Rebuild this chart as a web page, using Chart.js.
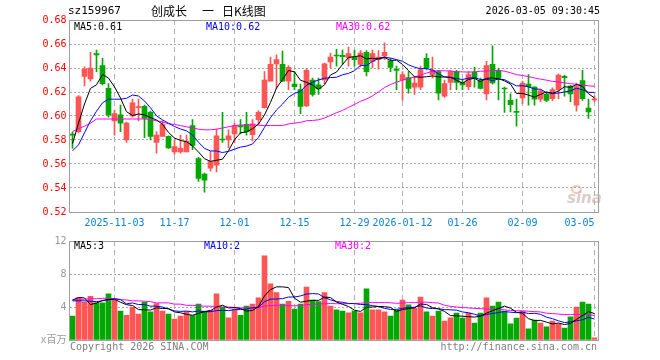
<!DOCTYPE html>
<html><head><meta charset="utf-8">
<script src="https://cdn.jsdelivr.net/npm/chart.js@4/dist/chart.umd.min.js"></script>
<style>
html,body{margin:0;padding:0;background:#fff;}
#wrap{position:relative;width:660px;height:360px;overflow:hidden;font-family:"DejaVu Sans Mono",monospace;font-size:10px;}
.t{position:absolute;white-space:pre;line-height:12px;}
canvas{position:absolute;left:0;}
</style></head><body>
<div id="wrap">
<canvas id="k" width="660" height="232" style="top:0;width:660px;height:232px"></canvas>
<canvas id="v" width="660" height="128" style="top:232px;width:660px;height:128px"></canvas>
<div class="t" style="left:68px;top:5px;font-size:11px;color:#000">sz159967</div>
<div class="t" style="left:151px;top:4px;font-size:12px;line-height:14px;font-family:'Noto Sans CJK SC',sans-serif;color:#000"><span>创成长</span><span style="margin-left:15px">一</span><span style="margin-left:8px">日K线图</span></div>
<div class="t" style="right:60px;top:5px;color:#000">2026-03-05 09:30:45</div>
<div class="t" style="left:74px;top:21px;color:#000">MA5:0.61</div>
<div class="t" style="left:206px;top:21px;color:#0000ff">MA10:0.62</div>
<div class="t" style="left:336px;top:21px;color:#ff00ff">MA30:0.62</div>
<div style="position:absolute;left:571px;top:185px;width:7px;height:5px;border:2px solid rgba(230,130,130,0.45);border-radius:50%"></div>
<div class="t" style="left:567px;top:191px;font-size:15px;line-height:15px;font-family:'DejaVu Sans',sans-serif;font-weight:bold;font-style:italic;color:rgba(190,160,160,0.55)">sina</div>
<div class="t" style="left:74px;top:240px;color:#000">MA5:3</div>
<div class="t" style="left:204px;top:240px;color:#0000ff">MA10:2</div>
<div class="t" style="left:335px;top:240px;color:#ff00ff">MA30:2</div>
<div class="t" style="left:70px;top:341px;color:#808080">Copyright 2026 SINA.COM</div>
<div class="t" style="right:63px;top:341px;color:#808080">http://finance.sina.com.cn</div>
</div>
<script>
const dates = [
'2025-10-23','2025-10-24','2025-10-27','2025-10-28','2025-10-29','2025-10-30','2025-10-31',
'2025-11-03','2025-11-04','2025-11-05','2025-11-06','2025-11-07','2025-11-10','2025-11-11','2025-11-12','2025-11-13','2025-11-14',
'2025-11-17','2025-11-18','2025-11-19','2025-11-20','2025-11-21','2025-11-24','2025-11-25','2025-11-26','2025-11-27','2025-11-28',
'2025-12-01','2025-12-02','2025-12-03','2025-12-04','2025-12-05','2025-12-08','2025-12-09','2025-12-10','2025-12-11','2025-12-12',
'2025-12-15','2025-12-16','2025-12-17','2025-12-18','2025-12-19','2025-12-22','2025-12-23','2025-12-24','2025-12-25','2025-12-26',
'2025-12-29','2025-12-30','2025-12-31',
'2026-01-05','2026-01-06','2026-01-07','2026-01-08','2026-01-09','2026-01-12','2026-01-13','2026-01-14','2026-01-15','2026-01-16',
'2026-01-19','2026-01-20','2026-01-21','2026-01-22','2026-01-23','2026-01-26','2026-01-27','2026-01-28','2026-01-29','2026-01-30',
'2026-02-02','2026-02-03','2026-02-04','2026-02-05','2026-02-06','2026-02-09','2026-02-10','2026-02-11','2026-02-12','2026-02-13',
'2026-02-24','2026-02-25','2026-02-26','2026-02-27',
'2026-03-02','2026-03-03','2026-03-04','2026-03-05'];

const open = [0.585,0.587,0.633,0.631,0.652,0.642,0.623,0.596,0.601,0.580,
0.600,0.607,0.608,0.603,0.578,0.583,0.583,0.570,0.570,0.570,
0.592,0.5645,0.5515,0.5565,0.559,0.5805,0.580,0.585,0.592,0.593,
0.5845,0.597,0.607,0.629,0.6435,0.643,0.629,0.6265,0.622,0.6085,
0.630,0.626,0.630,0.645,0.6505,0.6505,0.6485,0.649,0.643,0.653,
0.6455,0.647,0.650,0.646,0.6385,0.630,0.632,0.624,0.624,0.648,
0.6345,0.637,0.6165,0.628,0.637,0.628,0.6245,0.6365,0.6295,0.6185,
0.643,0.638,0.623,0.613,0.6035,0.615,0.6265,0.624,0.614,0.618,
0.6145,0.622,0.633,0.625,0.609,0.6295,0.6065,0.6135];
const high = [0.5865,0.617,0.641,0.653,0.655,0.648,0.627,0.605,0.609,0.595,
0.614,0.614,0.609,0.604,0.587,0.596,0.5835,0.580,0.584,0.584,
0.597,0.5655,0.5525,0.5705,0.589,0.603,0.5885,0.594,0.597,0.603,
0.597,0.6045,0.637,0.649,0.651,0.654,0.642,0.637,0.6265,0.6395,
0.6315,0.6315,0.644,0.6525,0.6555,0.655,0.6575,0.655,0.6545,0.6545,
0.655,0.6545,0.661,0.648,0.6415,0.637,0.637,0.633,0.6415,0.652,
0.649,0.638,0.630,0.638,0.638,0.630,0.637,0.6405,0.6315,0.6455,
0.6585,0.640,0.624,0.6185,0.614,0.629,0.6345,0.6245,0.622,0.620,
0.6235,0.635,0.634,0.6255,0.6275,0.638,0.614,0.6165];
const low = [0.573,0.586,0.625,0.629,0.637,0.626,0.599,0.584,0.587,0.578,
0.599,0.596,0.582,0.580,0.569,0.583,0.573,0.568,0.569,0.570,
0.572,0.5455,0.5365,0.554,0.5535,0.578,0.5735,0.5775,0.585,0.584,
0.579,0.593,0.6065,0.629,0.623,0.629,0.622,0.622,0.602,0.608,
0.6165,0.618,0.627,0.640,0.6415,0.643,0.6415,0.6415,0.641,0.6335,
0.640,0.639,0.647,0.637,0.622,0.613,0.619,0.618,0.622,0.6385,
0.6315,0.6135,0.6155,0.622,0.622,0.622,0.622,0.624,0.6225,0.6135,
0.6265,0.6135,0.603,0.6035,0.5915,0.610,0.609,0.609,0.612,0.612,
0.6128,0.6145,0.6165,0.612,0.604,0.613,0.598,0.612];
const close = [0.584,0.616,0.639,0.640,0.651,0.627,0.601,0.602,0.594,0.594,
0.611,0.6075,0.598,0.583,0.584,0.593,0.5735,0.5745,0.573,0.579,
0.5755,0.548,0.5465,0.562,0.5835,0.580,0.5835,0.592,0.591,0.587,
0.5935,0.603,0.630,0.643,0.647,0.629,0.6405,0.6245,0.608,0.638,
0.618,0.6225,0.6435,0.649,0.650,0.6495,0.652,0.647,0.6525,0.637,
0.652,0.649,0.653,0.6405,0.638,0.6345,0.623,0.6275,0.6385,0.640,
0.638,0.619,0.627,0.637,0.628,0.626,0.6345,0.6315,0.623,0.642,
0.6275,0.6315,0.6225,0.6095,0.603,0.6275,0.6245,0.614,0.621,0.613,
0.622,0.634,0.632,0.6185,0.6245,0.6145,0.6035,0.614];
// volume, millions
const volume = [2.9,5.1,4.6,5.3,4.5,4.5,5.6,4.8,3.5,3.0,
4.0,3.15,4.6,3.4,4.4,3.5,3.15,2.55,2.9,3.45,
2.95,4.35,3.5,3.6,5.6,4.0,2.7,3.75,3.0,4.1,
4.35,5.1,10.2,6.8,5.75,4.35,4.7,3.75,4.35,6.4,
4.85,4.65,5.75,4.1,3.65,3.5,3.3,3.55,3.3,6.2,
3.65,3.65,3.4,2.9,3.65,4.85,4.25,3.85,5.2,3.4,
2.9,3.5,2.3,2.7,3.25,2.65,3.25,2.05,3.25,5.1,
4.1,4.6,3.5,1.95,2.65,3.45,1.35,2.4,2.05,1.6,
2.3,1.95,1.45,2.8,4.0,4.6,4.35,0.25];

// moving-average values for days whose history lies before the visible window
const ma5Head = [0.577,0.594,0.610,0.623];
const ma10Head = [0.571,0.576,0.586,0.596,0.604,0.611,0.614,0.614,0.614];
const ma30Head = [0.587,0.5895,0.5915,0.594,0.5975,0.5975,0.5975,0.5975,0.5975,0.5975,
0.5975,0.5975,0.5975,0.597,0.596,0.595,0.5935,0.593,0.592,0.591,
0.590,0.589,0.5885,0.5885,0.589,0.590,0.591,0.592,0.5925];
const vma5Head = [4.85,5.15,5.1,4.3];
const vma10Head = [4.75,4.75,4.75,4.7,4.65,4.75,4.9,5.0,4.9];
const vma30Head = [4.85,4.9,4.95,5.0,5.0,5.05,5.05,5.0,4.9,4.85,
4.75,4.75,4.7,4.65,4.5,4.5,4.5,4.35,4.35,4.2,
4.2,4.15,4.1,4.1,4.05,4.0,4.0,3.95,3.9];

const tickDates = ['2025-11-03','2025-11-17','2025-12-01','2025-12-15','2025-12-29','2026-01-12','2026-01-26','2026-02-09','2026-03-05'];
const tickTexts = ['2025-11-03','11-17','12-01','12-15','12-29','2026-01-12','01-26','02-09','03-05'];
const priceTicks = ['0.52','0.54','0.56','0.58','0.60','0.62','0.64','0.66','0.68'];
const volTicks = ['x百万','4','8','12'];

function movingAvg(src, n, head) {
  return src.map((_, i) => i < head.length ? head[i] :
    src.slice(i - n + 1, i + 1).reduce((a, b) => a + b, 0) / n);
}
const ma5 = movingAvg(close, 5, ma5Head), ma10 = movingAvg(close, 10, ma10Head), ma30 = movingAvg(close, 30, ma30Head);
const vma5 = movingAvg(volume, 5, vma5Head), vma10 = movingAvg(volume, 10, vma10Head), vma30 = movingAvg(volume, 30, vma30Head);

const UP = '#ff5555', DOWN = '#00a800';
const colors = dates.map((d, i) => close[i] >= open[i] ? UP : DOWN);
const tickIdx = new Map(tickDates.map((d, k) => [dates.indexOf(d), tickTexts[k]]));
const lastIdx = dates.length - 1;
const MONO = "'DejaVu Sans Mono', 'Noto Sans CJK SC', monospace";

const boxPlugin = {id: 'box', afterDraw(c) {
  const a = c.chartArea, x = c.ctx;
  const l = Math.round(a.left) - 0.5, r = Math.round(a.right) + 0.5, t = Math.round(a.top) + 0.5, b = Math.round(a.bottom) + 0.5;
  x.save(); x.strokeStyle = '#a0a0a0'; x.lineWidth = 1; x.setLineDash([]);
  x.strokeRect(l, t, r - l, b - t); x.restore();
}};

function lineDs(data, color) {
  return {type: 'line', data, borderColor: color, borderWidth: 1, pointRadius: 0, fill: false, tension: 0, order: 0};
}
function xScale(showLabels) {
  return {
    offset: true,
    grid: {offset: false, drawTicks: false, lineWidth: 1, color: ctx => tickIdx.has(ctx.index) ? '#b0b0b0' : 'rgba(0,0,0,0)'},
    border: {display: false, dash: [5, 4]},
    ticks: {display: showLabels, autoSkip: false, maxRotation: 0, minRotation: 0, padding: 5, color: '#0b82d6',
      font: {family: MONO, size: 10},
      // the last label sits inside the plot's right edge, as in the original
      callback: (v, i) => tickIdx.has(i) ? (i === lastIdx ? tickIdx.get(i) + '     ' : tickIdx.get(i)) : ''},
    afterFit: s => { s.height = 20; }
  };
}

new Chart(document.getElementById('k'), {
  type: 'bar',
  data: {
    labels: dates,
    datasets: [
      lineDs(ma5, '#000000'), lineDs(ma10, '#0000ff'), lineDs(ma30, '#ff00ff'),
      {type: 'bar', data: dates.map((d, i) => [open[i], close[i]]), backgroundColor: colors, borderWidth: 0,
        barThickness: 5, minBarLength: 1, grouped: false, order: 1},
      {type: 'bar', data: dates.map((d, i) => [low[i], high[i]]), backgroundColor: colors, borderWidth: 0,
        barThickness: 1, minBarLength: 1, grouped: false, order: 2}
    ]
  },
  options: {
    responsive: false, animation: false, events: [],
    layout: {padding: {top: 20, right: 62.5, left: 0, bottom: 0}},
    plugins: {legend: {display: false}, tooltip: {enabled: false}},
    scales: {
      x: xScale(true),
      y: {
        min: 0.52, max: 0.68,
        ticks: {stepSize: 0.02, color: '#ff0000', padding: 3, font: {family: MONO, size: 10},
          callback: (v, i) => priceTicks[i]},
        grid: {drawTicks: false, lineWidth: 1, color: ctx => (ctx.index === 0 || ctx.index === priceTicks.length - 1) ? 'rgba(0,0,0,0)' : '#a8a8a8'},
        border: {display: false, dash: [2, 2]},
        afterFit: s => { s.width = 69.5; }
      }
    }
  },
  plugins: [boxPlugin]
});

new Chart(document.getElementById('v'), {
  type: 'bar',
  data: {
    labels: dates,
    datasets: [
      lineDs(vma5, '#000000'), lineDs(vma10, '#0000ff'), lineDs(vma30, '#ff00ff'),
      {type: 'bar', data: volume, backgroundColor: colors, borderWidth: 0, barThickness: 5, grouped: false, order: 1}
    ]
  },
  options: {
    responsive: false, animation: false, events: [],
    layout: {padding: {top: 9, right: 62.5, left: 0, bottom: 0}},
    plugins: {legend: {display: false}, tooltip: {enabled: false}},
    scales: {
      x: xScale(false),
      y: {
        min: 0, max: 12,
        ticks: {stepSize: 4, color: '#999999', padding: 3, font: {family: MONO, size: 10},
          callback: (v, i) => volTicks[i]},
        grid: {drawTicks: false, lineWidth: 1, color: ctx => (ctx.index === 0 || ctx.index === volTicks.length - 1) ? 'rgba(0,0,0,0)' : '#a8a8a8'},
        border: {display: false, dash: [2, 2]},
        afterFit: s => { s.width = 69.5; }
      }
    }
  },
  plugins: [boxPlugin]
});
</script>
</body></html>
